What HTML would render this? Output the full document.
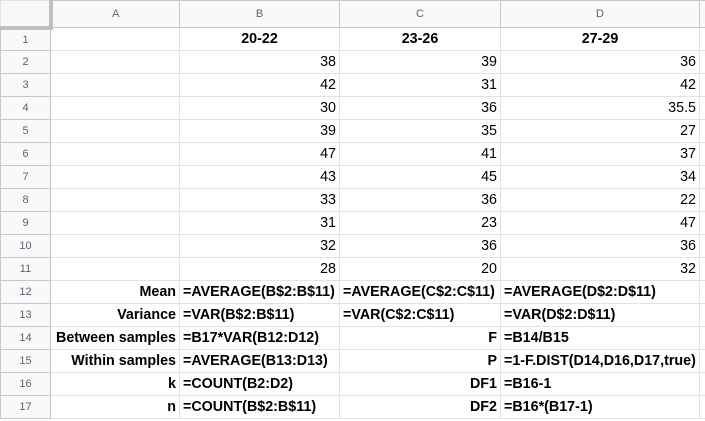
<!DOCTYPE html>
<html><head><meta charset="utf-8"><style>
body{margin:0;width:705px;height:421px;overflow:hidden;background:#fff;font-family:"Liberation Sans",Arial,sans-serif;}
table{border-collapse:collapse;table-layout:fixed;position:absolute;left:0;top:0;width:712px;}
td{border:1px solid #e2e3e3;height:23px;padding:0 3px;font-size:14.3px;color:#000;white-space:nowrap;overflow:hidden;box-sizing:border-box;}
td.h{background:#f8f9fa;color:#5f6368;text-align:center;font-size:11px;border-color:#c7c7c7;}
tr.top td{height:27px;}
td.r{text-align:right;}
td.b{font-weight:bold;}
td.c{text-align:center;}
td.corner{background:#f8f9fa;border-right:4px solid #c0c0c0;border-bottom:4px solid #c0c0c0;}
</style></head><body>
<table>
<colgroup><col style="width:50px"><col style="width:129px"><col style="width:160px"><col style="width:161px"><col style="width:199px"><col style="width:13px"></colgroup>
<tr class="top"><td class="corner"></td><td class="h">A</td><td class="h">B</td><td class="h">C</td><td class="h">D</td><td class="h"></td></tr>
<tr><td class="h">1</td><td></td><td class="c b">20-22</td><td class="c b">23-26</td><td class="c b">27-29</td><td></td></tr>
<tr><td class="h">2</td><td></td><td class="r">38</td><td class="r">39</td><td class="r">36</td><td></td></tr>
<tr><td class="h">3</td><td></td><td class="r">42</td><td class="r">31</td><td class="r">42</td><td></td></tr>
<tr><td class="h">4</td><td></td><td class="r">30</td><td class="r">36</td><td class="r">35.5</td><td></td></tr>
<tr><td class="h">5</td><td></td><td class="r">39</td><td class="r">35</td><td class="r">27</td><td></td></tr>
<tr><td class="h">6</td><td></td><td class="r">47</td><td class="r">41</td><td class="r">37</td><td></td></tr>
<tr><td class="h">7</td><td></td><td class="r">43</td><td class="r">45</td><td class="r">34</td><td></td></tr>
<tr><td class="h">8</td><td></td><td class="r">33</td><td class="r">36</td><td class="r">22</td><td></td></tr>
<tr><td class="h">9</td><td></td><td class="r">31</td><td class="r">23</td><td class="r">47</td><td></td></tr>
<tr><td class="h">10</td><td></td><td class="r">32</td><td class="r">36</td><td class="r">36</td><td></td></tr>
<tr><td class="h">11</td><td></td><td class="r">28</td><td class="r">20</td><td class="r">32</td><td></td></tr>
<tr><td class="h">12</td><td class="r b">Mean</td><td class="b">=AVERAGE(B$2:B$11)</td><td class="b">=AVERAGE(C$2:C$11)</td><td class="b">=AVERAGE(D$2:D$11)</td><td></td></tr>
<tr><td class="h">13</td><td class="r b">Variance</td><td class="b">=VAR(B$2:B$11)</td><td class="b">=VAR(C$2:C$11)</td><td class="b">=VAR(D$2:D$11)</td><td></td></tr>
<tr><td class="h">14</td><td class="r b">Between samples</td><td class="b">=B17*VAR(B12:D12)</td><td class="r b">F</td><td class="b">=B14/B15</td><td></td></tr>
<tr><td class="h">15</td><td class="r b">Within samples</td><td class="b">=AVERAGE(B13:D13)</td><td class="r b">P</td><td class="b">=1-F.DIST(D14,D16,D17,true)</td><td></td></tr>
<tr><td class="h">16</td><td class="r b">k</td><td class="b">=COUNT(B2:D2)</td><td class="r b">DF1</td><td class="b">=B16-1</td><td></td></tr>
<tr><td class="h">17</td><td class="r b">n</td><td class="b">=COUNT(B$2:B$11)</td><td class="r b">DF2</td><td class="b">=B16*(B17-1)</td><td></td></tr>
</table>
</body></html>
